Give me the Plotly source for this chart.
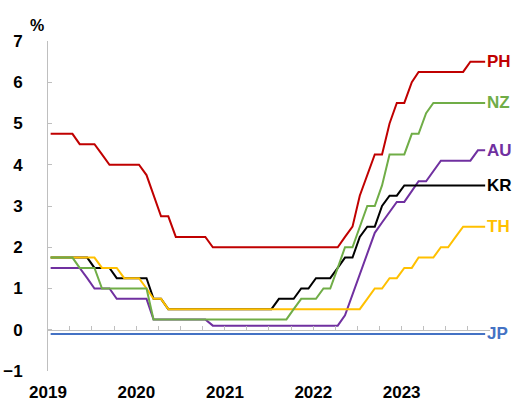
import pandas as pd
import plotly.graph_objects as go

# Monthly policy rates, Jan 2019 - Dec 2023 (%)
months = (pd.date_range("2019-01-01", periods=60, freq="MS") + pd.Timedelta(days=11)).strftime("%Y-%m-%d").tolist()

PH = [4.75]*4 + [4.5]*3 + [4.25] + [4.0]*5 + [3.75, 3.25] + [2.75]*2 + [2.25]*5 + [2.0]*18 + \
     [2.25, 2.5, 3.25, 3.75] + [4.25]*2 + [5.0] + [5.5]*2 + [6.0] + [6.25]*7 + [6.5]*3
NZ = [1.75]*4 + [1.5]*3 + [1.0]*7 + [0.25]*19 + [0.5] + [0.75]*3 + [1.0]*2 + [1.5] + [2.0]*2 + \
     [2.5] + [3.0]*2 + [3.5] + [4.25]*3 + [4.75]*2 + [5.25] + [5.5]*8
AU = [1.5]*5 + [1.25] + [1.0]*3 + [0.75]*5 + [0.25]*8 + [0.1]*18 + \
     [0.35, 0.85, 1.35, 1.85, 2.35, 2.6, 2.85] + [3.1]*2 + [3.35] + [3.6]*2 + [3.85] + [4.1]*5 + [4.35]*2
KR = [1.75]*6 + [1.5]*3 + [1.25]*5 + [0.75]*2 + [0.5]*15 + [0.75]*3 + [1.0]*2 + [1.25]*3 + [1.5] + \
     [1.75]*2 + [2.25] + [2.5]*2 + [3.0] + [3.25]*2 + [3.5]*12
TH = [1.75]*7 + [1.5]*3 + [1.25]*3 + [1.0] + [0.75]*2 + [0.5]*27 + [0.75] + [1.0]*2 + [1.25]*2 + \
     [1.5]*2 + [1.75]*3 + [2.0]*2 + [2.25] + [2.5]*4
JP = [-0.1]*60

series = [
    ("JP", JP, "#4472C4"),
    ("AU", AU, "#7030A0"),
    ("KR", KR, "#000000"),
    ("TH", TH, "#FFC000"),
    ("NZ", NZ, "#70AD47"),
    ("PH", PH, "#C00000"),
]

year_ticks = ["2019-01-01", "2020-01-01", "2021-01-01", "2022-01-01", "2023-01-01"]
year_labels = ["2019", "2020", "2021", "2022", "2023"]
quarter_ticks = pd.date_range("2019-01-01", "2024-01-01", freq="QS").strftime("%Y-%m-%d").tolist()
y_ticks = [-1, 0, 1, 2, 3, 4, 5, 6, 7]

FONT = "Liberation Sans, Arial, sans-serif"
GRAY = "#BFBFBF"
FS = 17

fig = go.Figure()
for name, vals, color in series:
    fig.add_trace(go.Scatter(
        x=months, y=vals, mode="lines", name=name,
        line=dict(color=color, width=2),
        xaxis="x2" if name == "JP" else "x",
        hoverinfo="skip", showlegend=False,
    ))
    fig.add_annotation(
        x=months[-1], y=vals[-1], xref="x", yref="y", text=name,
        showarrow=False, xanchor="left", yanchor="middle", xshift=0,
        font=dict(family=FONT, size=FS, color=color, weight="bold"),
    )

fig.add_annotation(
    x=-0.025, y=1.047, xref="paper", yref="paper", text="%", showarrow=False,
    xanchor="center", yanchor="middle",
    font=dict(family=FONT, size=16, color="#000000", weight="bold"),
)

xrange = ["2019-01-01", "2024-01-01"]
fig.update_layout(
    width=515, height=401,
    margin=dict(l=48, r=25, t=41, b=30, autoexpand=False),
    paper_bgcolor="white", plot_bgcolor="white",
    showlegend=False,
    xaxis=dict(
        type="date", range=xrange, anchor="free", position=0.125,
        tickmode="array", tickvals=quarter_ticks, ticks="inside", ticklen=4,
        tickcolor=GRAY, tickwidth=1, showticklabels=False, automargin=False,
        showline=True, linecolor=GRAY, linewidth=1, showgrid=False, zeroline=False,
    ),
    xaxis2=dict(
        type="date", range=xrange, overlaying="x", anchor="y", side="bottom",
        tickmode="array", tickvals=year_ticks, ticktext=year_labels, ticks="",
        showline=False, showgrid=False, zeroline=False, automargin=False,
        tickfont=dict(family=FONT, size=FS, color="#000000", weight="bold"),
        ticklabelstandoff=9,
    ),
    yaxis=dict(
        range=[-1, 7], tickmode="array", tickvals=y_ticks, automargin=False,
        ticks="inside", ticklen=4, tickcolor=GRAY, tickwidth=1,
        showline=True, linecolor=GRAY, linewidth=1, showgrid=False, zeroline=False,
        tickfont=dict(family=FONT, size=FS, color="#000000", weight="bold"),
        ticklabelstandoff=21,
    ),
)

fig.write_html("out.html")
